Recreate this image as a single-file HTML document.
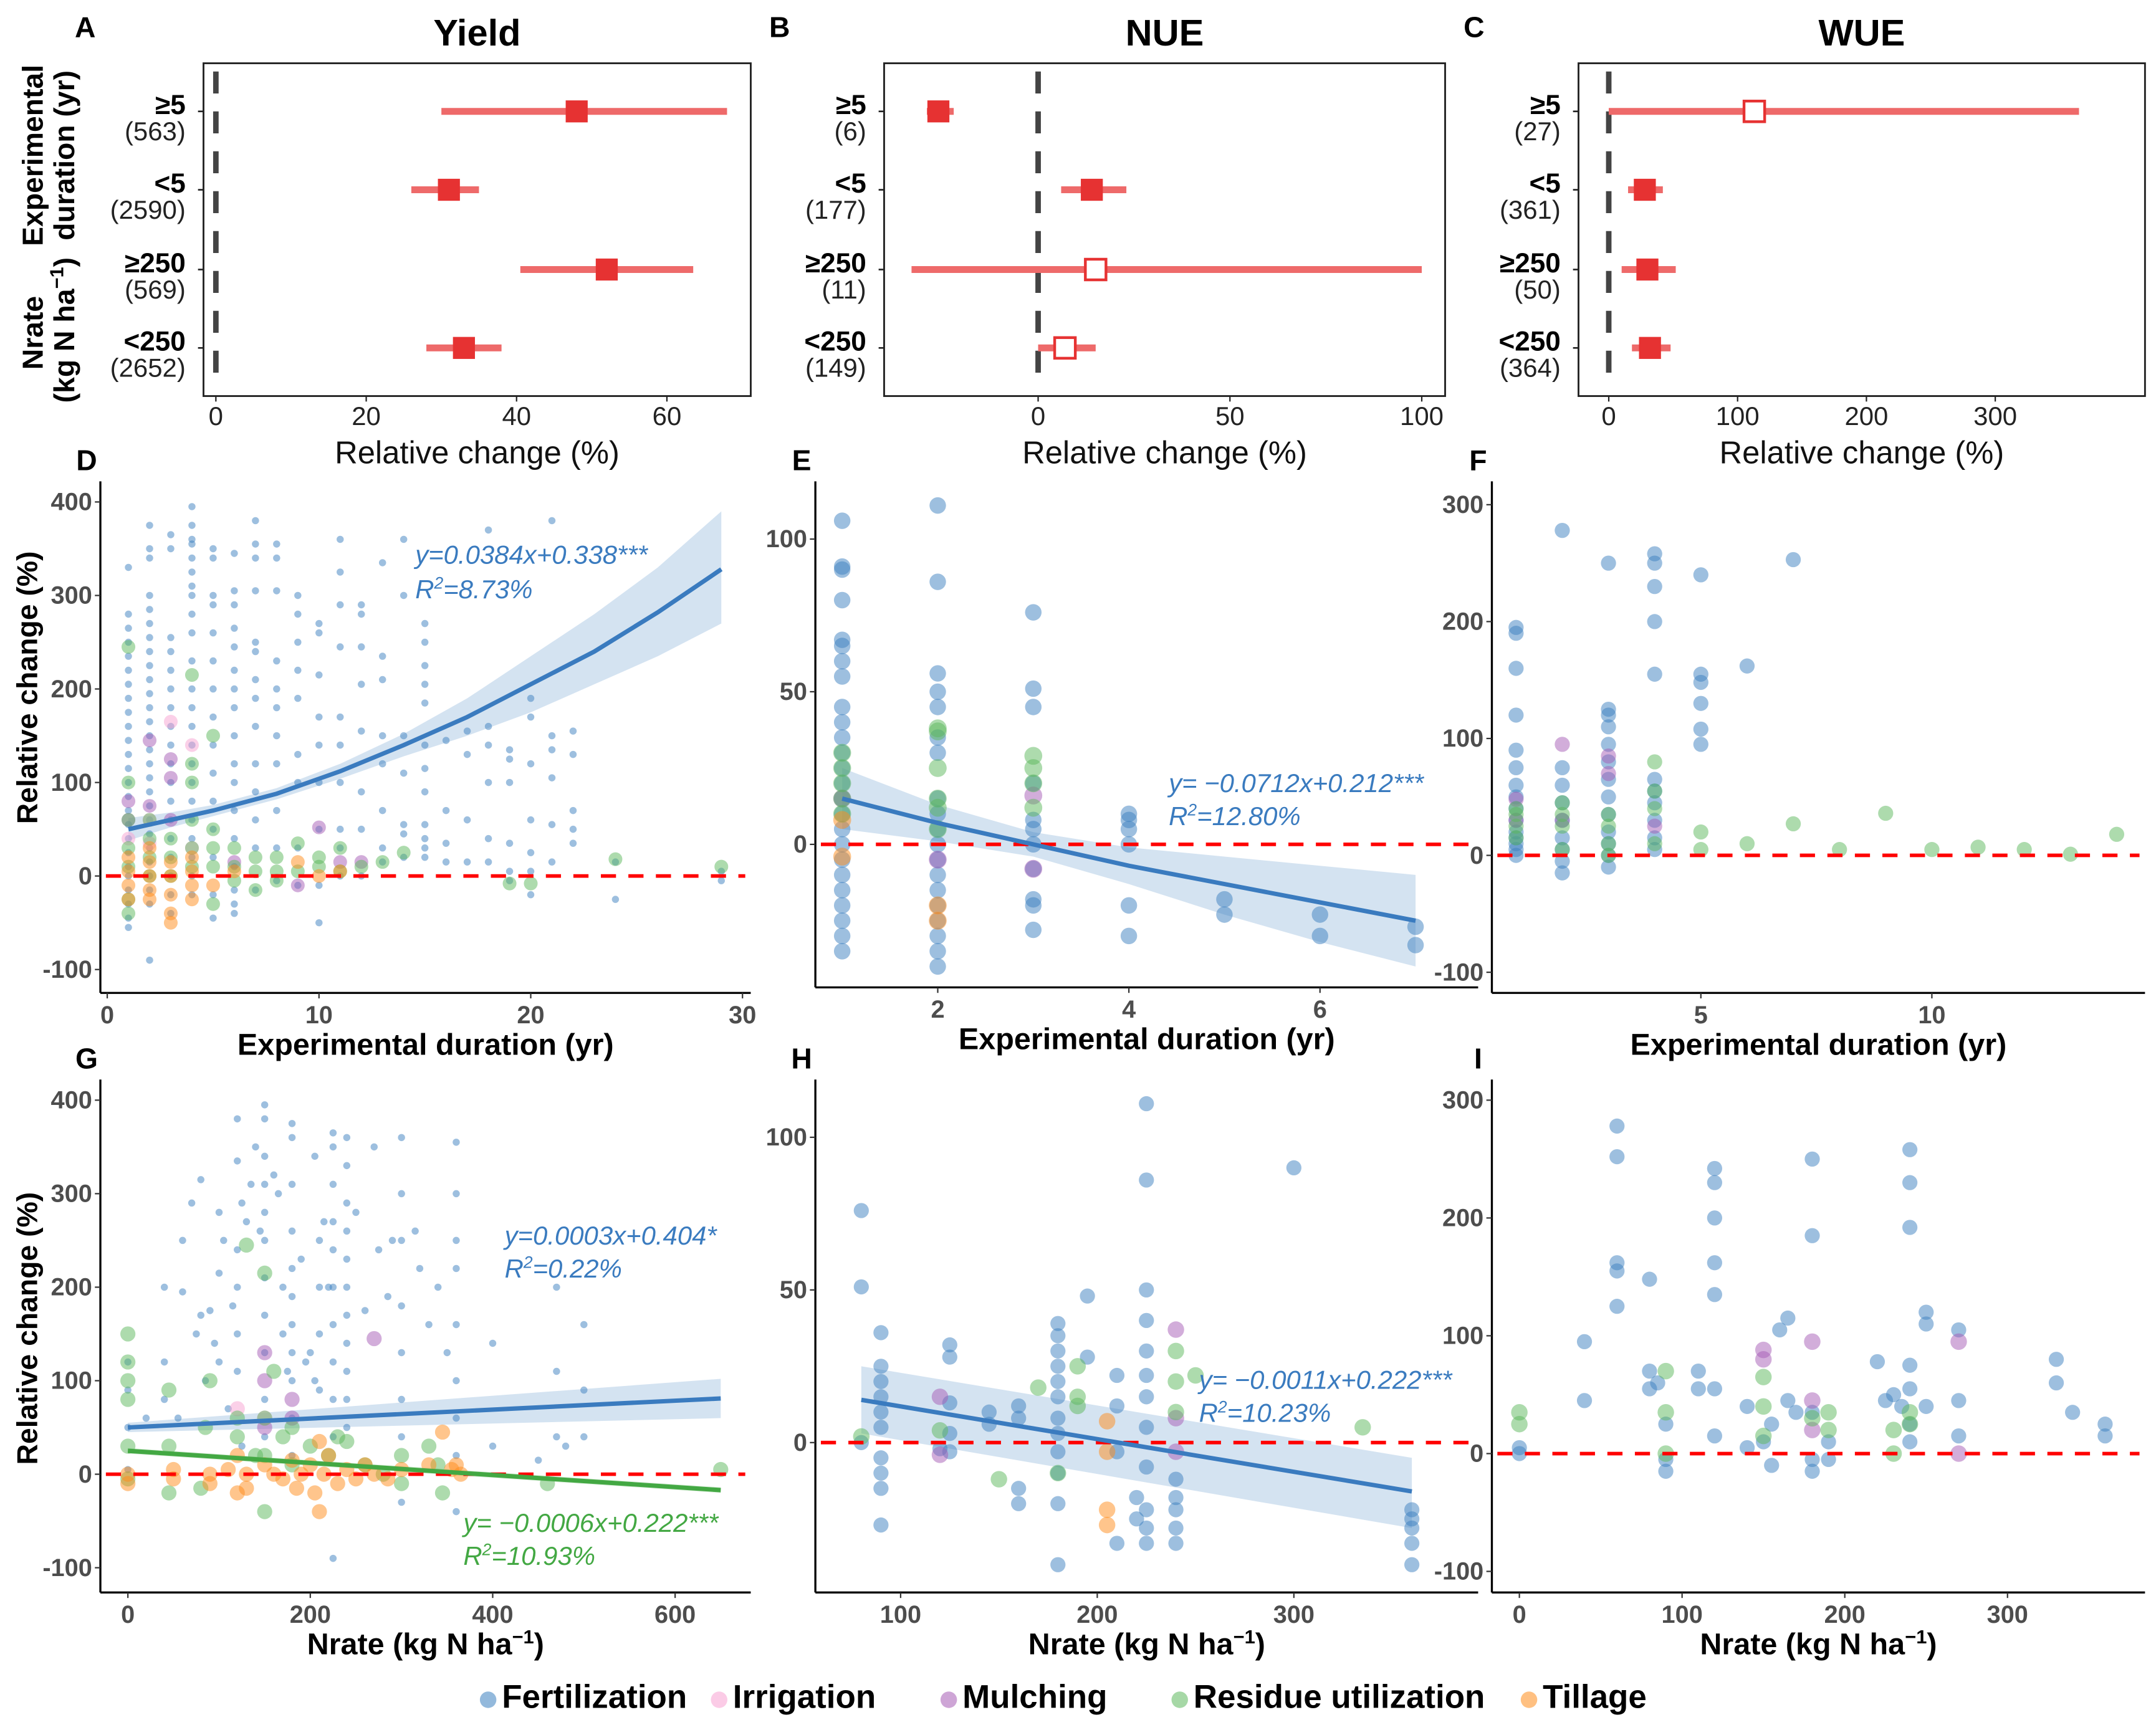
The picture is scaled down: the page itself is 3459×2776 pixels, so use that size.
<!DOCTYPE html>
<html><head><meta charset="utf-8">
<style>
html,body{margin:0;padding:0;background:#fff;}
svg{display:block;}
text{font-family:"Liberation Sans Narrow","Liberation Sans",sans-serif;}
.tk{font-size:18px;font-weight:bold;fill:#4d4d4d;}
.tkA{font-size:19px;fill:#222;}
.lab{font-size:22px;font-weight:bold;fill:#000;}
.labA{font-size:23px;fill:#111;}
.ttl{font-size:27px;font-weight:bold;fill:#000;}
.pl{font-size:21px;font-weight:bold;fill:#000;font-family:"Liberation Sans",sans-serif;}
.eq{font-size:19px;font-style:italic;}
.rl{font-size:21px;font-weight:bold;font-family:"Liberation Sans",sans-serif;}
</style></head>
<body>
<svg id="fig" width="3459" height="2776" viewBox="0 0 1568 1258" preserveAspectRatio="none" xmlns="http://www.w3.org/2000/svg">
<g id="root"></g>
</svg>
<script>
// ---------- Forest plot data (rows top->bottom) ----------
const rowLabels=["≥5","<5","≥250","<250"];
const yieldN=["(563)","(2590)","(569)","(2652)"];
const yieldMean=[48,31,52,33];
const yieldLo=[30,26,40.5,28];
const yieldHi=[68,35,63.5,38];
const yieldOpen=[0,0,0,0];
const nueN=["(6)","(177)","(11)","(149)"];
const nueMean=[-26,14,15,7];
const nueLo=[-29,6,-33,0];
const nueHi=[-22,23,100,15];
const nueOpen=[0,0,1,1];
const wueN=["(27)","(361)","(50)","(364)"];
const wueMean=[113,28,30,32];
const wueLo=[0,15,10,18];
const wueHi=[365,42,52,48];
const wueOpen=[1,0,0,0];
const forestTicksA=[0,20,40,60];
const forestTicksB=[0,50,100];
const forestTicksC=[0,100,200,300];

// ---------- Scatter data: [x,y] ----------
const dFert=[[1,-55],[1,-45],[1,-30],[1,-15],[1,0],[1,10],[1,25],[1,40],[1,55],[1,70],[1,85],[1,100],[1,115],[1,130],[1,145],[1,160],[1,175],[1,190],[1,205],[1,220],[1,235],[1,250],[1,265],[1,280],[1,330],
[2,-90],[2,-30],[2,-15],[2,0],[2,15],[2,30],[2,45],[2,60],[2,75],[2,90],[2,105],[2,120],[2,135],[2,150],[2,165],[2,180],[2,195],[2,210],[2,225],[2,240],[2,255],[2,270],[2,285],[2,300],[2,340],[2,350],[2,375],
[3,-40],[3,-20],[3,0],[3,20],[3,40],[3,60],[3,80],[3,100],[3,120],[3,140],[3,160],[3,180],[3,200],[3,220],[3,240],[3,255],[3,350],[3,365],
[4,-20],[4,0],[4,20],[4,40],[4,60],[4,80],[4,100],[4,120],[4,140],[4,160],[4,180],[4,200],[4,230],[4,260],[4,280],[4,300],[4,310],[4,325],[4,340],[4,355],[4,360],[4,375],[4,395],
[5,-45],[5,-20],[5,20],[5,50],[5,80],[5,110],[5,140],[5,170],[5,200],[5,230],[5,260],[5,290],[5,300],[5,340],[5,350],
[6,-40],[6,-30],[6,-15],[6,10],[6,40],[6,70],[6,100],[6,120],[6,150],[6,180],[6,200],[6,220],[6,245],[6,265],[6,290],[6,305],[6,345],
[7,-15],[7,30],[7,60],[7,90],[7,120],[7,160],[7,190],[7,210],[7,240],[7,250],[7,305],[7,340],[7,355],[7,380],
[8,-5],[8,30],[8,70],[8,120],[8,150],[8,180],[8,200],[8,230],[8,305],[8,340],[8,355],
[9,-10],[9,30],[9,100],[9,130],[9,190],[9,220],[9,250],[9,280],[9,300],
[10,-50],[10,-10],[10,50],[10,100],[10,140],[10,170],[10,215],[10,260],[10,270],
[11,0],[11,30],[11,50],[11,100],[11,140],[11,170],[11,245],[11,290],[11,325],[11,360],
[12,0],[12,50],[12,90],[12,155],[12,205],[12,245],[12,280],[12,290],
[13,15],[13,30],[13,70],[13,120],[13,150],[13,210],[13,235],[13,335],
[14,20],[14,45],[14,55],[14,110],[14,150],[14,300],[14,360],
[15,20],[15,30],[15,40],[15,55],[15,90],[15,115],[15,140],[15,185],[15,205],[15,225],[15,250],[15,270],
[16,15],[16,35],[16,70],[16,145],[17,15],[17,60],[17,130],[17,155],
[18,15],[18,40],[18,100],[18,140],[18,160],[18,370],[19,-5],[19,5],[19,35],[19,100],[19,125],[19,135],
[20,-20],[20,5],[20,25],[20,60],[20,120],[20,170],[20,190],[21,15],[21,55],[21,105],[21,135],[21,150],[21,380],
[22,35],[22,50],[22,70],[22,130],[22,155],[24,-25],[24,15],[29,-5],[29,5]];
const dIrr=[[1,40],[2,60],[3,165],[4,140],[4,30],[2,35]];
const dMulch=[[1,80],[2,145],[3,125],[3,105],[2,75],[10,52],[11,15],[12,15],[6,15],[9,-10],[1,60],[3,60]];
const dRes=[[1,245],[1,100],[1,60],[1,30],[1,10],[1,-25],[1,-40],[2,60],[2,40],[2,20],[2,0],[3,40],[3,20],[3,0],[4,215],[4,120],[4,100],[4,60],[4,30],[4,10],[5,150],[5,50],[5,30],[5,10],[5,-30],[6,30],[6,10],[6,-5],[7,20],[7,5],[7,-15],[8,20],[8,5],[8,-5],[9,35],[9,5],[10,10],[10,20],[11,30],[11,5],[12,10],[13,15],[14,25],[19,-8],[20,-8],[24,18],[29,10]];
const dTill=[[1,-10],[1,5],[1,20],[1,-25],[2,-15],[2,0],[2,15],[2,30],[2,-25],[3,-20],[3,0],[3,15],[3,-40],[3,-50],[4,-25],[4,-10],[4,5],[4,20],[5,-10],[6,5],[9,15],[10,0],[11,5]];
const dFitX=[1,3,5,8,11,14,17,20,23,26,29];
const dFitY=[50,60,70,88,112,140,170,205,240,282,328];
const dFitLo=[38,52,64,82,104,128,150,175,205,235,270];
const dFitHi=[62,68,76,94,120,152,190,235,280,330,390];

const eFert=[[1,-35],[1,-30],[1,-25],[1,-20],[1,-15],[1,-10],[1,-5],[1,0],[1,5],[1,10],[1,15],[1,20],[1,25],[1,30],[1,35],[1,40],[1,45],[1,55],[1,60],[1,65],[1,67],[1,80],[1,90],[1,91],[1,106],
[2,-40],[2,-35],[2,-30],[2,-25],[2,-20],[2,-15],[2,-10],[2,-5],[2,0],[2,5],[2,10],[2,15],[2,30],[2,35],[2,45],[2,50],[2,56],[2,86],[2,111],
[3,-28],[3,-20],[3,-18],[3,-8],[3,0],[3,5],[3,8],[3,20],[3,45],[3,51],[3,76],[4,-30],[4,-20],[4,0],[4,5],[4,8],[4,10],[5,-18],[5,-23],[6,-23],[6,-30],[7,-27],[7,-33]];
const eIrr=[];
const eMulch=[[1,15],[2,-5],[3,16],[3,-8]];
const eRes=[[1,10],[1,15],[1,20],[1,25],[1,30],[2,5],[2,12],[2,15],[2,25],[2,37],[2,38],[3,12],[3,20],[3,25],[3,29]];
const eTill=[[1,-4],[1,8],[2,-20],[2,-25]];
const eFitX=[1,2,3,4,5,6,7];
const eFitY=[15,7,0,-7,-13,-19,-25];
const eFitLo=[5,1,-4,-13,-23,-32,-40];
const eFitHi=[25,13,4,-1,-4,-7,-10];

const fFert=[[1,0],[1,5],[1,10],[1,15],[1,20],[1,30],[1,40],[1,50],[1,60],[1,75],[1,90],[1,120],[1,160],[1,190],[1,195],[2,-15],[2,-5],[2,5],[2,15],[2,30],[2,45],[2,60],[2,75],[2,278],[3,-10],[3,0],[3,10],[3,20],[3,35],[3,50],[3,65],[3,80],[3,95],[3,110],[3,120],[3,125],[3,250],[4,5],[4,15],[4,30],[4,45],[4,55],[4,65],[4,155],[4,200],[4,230],[4,250],[4,258],[5,95],[5,108],[5,130],[5,148],[5,155],[5,240],[6,162],[7,253]];
const fIrr=[];
const fMulch=[[1,30],[1,48],[2,95],[2,30],[3,70],[3,85],[4,25]];
const fRes=[[1,15],[1,25],[1,35],[1,40],[2,25],[2,35],[2,45],[2,5],[3,10],[3,25],[3,35],[3,0],[4,40],[4,55],[4,80],[4,10],[5,20],[5,5],[6,10],[7,27],[8,5],[9,36],[10,5],[11,7],[12,5],[13,1],[14,18]];
const fTill=[];

const gFert=[[0,5],[0,50],[0,90],[0,120],[20,60],[40,200],[40,120],[40,80],[55,60],[60,195],[60,250],[70,290],[75,150],[80,315],[80,170],[85,100],[90,175],[95,140],[100,280],[100,215],[100,120],[105,250],[110,70],[115,180],[120,380],[120,335],[120,240],[120,200],[120,150],[120,110],[125,290],[125,30],[130,270],[135,310],[140,350],[145,260],[150,395],[150,380],[150,340],[150,310],[150,280],[150,250],[150,210],[150,170],[150,130],[150,80],[150,40],[160,320],[165,300],[170,200],[170,150],[175,110],[180,375],[180,360],[180,310],[180,260],[180,220],[180,190],[180,160],[180,130],[180,100],[180,60],[180,20],[190,230],[195,120],[200,130],[205,340],[205,100],[210,250],[210,200],[210,150],[210,90],[215,270],[220,200],[225,365],[225,350],[225,310],[225,270],[225,240],[225,200],[225,160],[225,120],[225,80],[225,40],[225,-90],[240,360],[240,330],[240,290],[240,260],[240,230],[240,200],[240,170],[240,140],[240,110],[240,80],[240,50],[250,280],[260,175],[270,350],[275,240],[285,190],[290,250],[300,360],[300,300],[300,250],[300,180],[300,130],[300,80],[300,40],[300,-30],[315,260],[320,220],[330,160],[340,200],[350,130],[360,355],[360,300],[360,250],[360,220],[360,160],[360,100],[360,60],[360,20],[360,-40],[400,140],[400,30],[450,15],[470,200],[470,110],[470,40],[480,30],[500,160],[500,90],[500,40]];
const gIrr=[[150,60],[120,70]];
const gMulch=[[150,130],[150,100],[180,80],[180,60],[270,145],[150,50]];
const gRes=[[0,150],[0,120],[0,100],[0,80],[0,30],[0,-5],[45,90],[45,30],[45,-20],[80,-15],[85,50],[90,100],[120,60],[120,40],[130,245],[140,20],[150,215],[150,60],[150,20],[150,-40],[160,110],[170,40],[180,50],[180,10],[200,30],[220,20],[230,40],[240,35],[260,10],[280,0],[300,20],[300,-10],[330,30],[340,10],[345,-20],[460,-10],[650,5]];
const gTill=[[0,0],[0,-10],[50,5],[50,-5],[90,0],[90,-10],[110,5],[120,20],[120,-20],[130,0],[130,-15],[150,10],[160,0],[170,-5],[180,15],[185,-15],[190,0],[200,10],[205,-20],[210,35],[210,-40],[215,0],[220,20],[230,-10],[240,5],[250,-5],[260,10],[270,0],[285,-5],[300,5],[330,10],[345,45],[355,5],[360,10],[365,0]];
const gFitX=[0,650];
const gFitY=[50,81];
const gFitLo=[45,60];
const gFitHi=[55,102];
const gFit2X=[0,650];
const gFit2Y=[25,-17];
const gFit2Lo=[22,-20];
const gFit2Hi=[28,-14];

const hFert=[[80,0],[80,51],[80,76],[90,36],[90,25],[90,20],[90,15],[90,10],[90,5],[90,-5],[90,-10],[90,-15],[90,-27],[120,-2],[125,32],[125,28],[125,13],[125,3],[125,-3],[145,10],[145,6],[160,12],[160,8],[160,-15],[160,-20],[180,39],[180,35],[180,30],[180,25],[180,20],[180,15],[180,8],[180,3],[180,-3],[180,-10],[180,-20],[180,-40],[195,48],[195,28],[210,22],[210,12],[210,-3],[210,-33],[220,-18],[220,-25],[225,111],[225,86],[225,50],[225,40],[225,30],[225,22],[225,15],[225,5],[225,-8],[225,-22],[225,-28],[225,-33],[240,-12],[240,-18],[240,-22],[240,-28],[240,-33],[300,90],[360,-22],[360,-25],[360,-28],[360,-33],[360,-40]];
const hIrr=[];
const hMulch=[[120,15],[120,-4],[240,37],[240,8],[240,-3]];
const hRes=[[80,2],[120,4],[170,18],[190,25],[190,15],[190,12],[240,30],[240,20],[240,10],[250,22],[335,5],[150,-12],[180,-10]];
const hTill=[[205,7],[205,-3],[205,-22],[205,-27]];
const hFitX=[80,360];
const hFitY=[14,-16];
const hFitLo=[3,-28];
const hFitHi=[25,-5];

const iFert=[[0,5],[0,0],[40,95],[40,45],[60,278],[60,252],[60,162],[60,155],[60,125],[80,148],[80,70],[80,55],[85,60],[90,25],[90,-5],[90,-15],[110,70],[110,55],[120,242],[120,230],[120,200],[120,162],[120,135],[120,55],[120,15],[140,40],[140,5],[150,10],[155,25],[155,-10],[160,105],[165,115],[165,45],[170,35],[180,250],[180,185],[180,35],[180,-5],[180,-15],[190,10],[190,-5],[220,78],[225,45],[230,50],[235,40],[240,258],[240,230],[240,192],[240,75],[240,55],[240,25],[240,10],[250,120],[250,110],[250,40],[270,105],[270,45],[270,15],[330,80],[330,60],[340,35],[360,25],[360,15]];
const iIrr=[];
const iMulch=[[150,88],[150,80],[180,95],[180,45],[180,20],[270,95],[270,0]];
const iRes=[[0,35],[0,25],[90,70],[90,35],[90,0],[150,65],[150,40],[150,15],[180,30],[190,35],[190,20],[230,20],[230,0],[240,35],[240,25]];
const iTill=[];

const legendNames=["Fertilization","Irrigation","Mulching","Residue utilization","Tillage"];

const NS="http://www.w3.org/2000/svg";
const root=document.getElementById('root');
function mk(tag,attrs,parent){const e=document.createElementNS(NS,tag);for(const k in attrs)e.setAttribute(k,attrs[k]);(parent||root).appendChild(e);return e;}
function txt(s,x,y,cls,anchor,parent,extra){const t=mk('text',Object.assign({x:x,y:y,'class':cls,'text-anchor':anchor||'middle'},extra||{}),parent);t.textContent=s;return t;}
const COL={F:'#3b7fc0',I:'#f7a1d2',M:'#a55bb5',R:'#5cb85c',T:'#ff8c1a'};

// ---------- forest panels ----------
function forest(o){
  const g=mk('g',{});
  
  
  const sx=v=>o.x0+(v-o.v0)*o.k;
  mk('rect',{x:o.L,y:46,width:o.R-o.L,height:242,fill:'none',stroke:'#222','stroke-width':1.3},g);
  const zl=mk('line',{x1:sx(0),x2:sx(0),y1:52,y2:283,stroke:'#444','stroke-width':4,'stroke-dasharray':'16,13'},g);
  
  
  const rows=[81,138,196,253];
  for(let i=0;i<4;i++){
    const y=rows[i];
    mk('line',{x1:o.L-4,x2:o.L,y1:y,y2:y,stroke:'#222','stroke-width':1.2},g);
    txt(rowLabels[i],o.L-13,y+2,'lab','end',g,{style:'font-size:20px'});
    txt(o.n[i],o.L-13,y+21,'tkA','end',g);
    const ci=mk('line',{x1:sx(o.lo[i]),x2:sx(o.hi[i]),y1:y,y2:y,stroke:'#ee6a6a','stroke-width':5},g);
    
    
    const s=o.open[i]?15:16;
    const sq=mk('rect',{x:sx(o.mean[i])-s/2,y:y-s/2,width:s,height:s,fill:o.open[i]?'#fff':'#e63232',stroke:o.open[i]?'#e63232':'none','stroke-width':2},g);
    
    
  }
  for(const t of o.ticks){mk('line',{x1:sx(t),x2:sx(t),y1:288,y2:292,stroke:'#222'},g);txt(String(t),sx(t),309,'tkA','middle',g);}
  txt('Relative change (%)',(o.L+o.R)/2,337,'labA','middle',g);
  txt(o.title,(o.L+o.R)/2,33,'ttl','middle',g);
  txt(o.letter,o.lx,27,'pl','middle',g);
}
forest({name:'yield-forest',L:148,R:546,x0:157,v0:0,k:5.467,mean:yieldMean,lo:yieldLo,hi:yieldHi,open:yieldOpen,n:yieldN,ticks:forestTicksA,title:'Yield',letter:'A',lx:62});
forest({name:'nue-forest',L:643,R:1051,x0:755,v0:0,k:2.79,mean:nueMean,lo:nueLo,hi:nueHi,open:nueOpen,n:nueN,ticks:forestTicksB,title:'NUE',letter:'B',lx:567});
forest({name:'wue-forest',L:1148,R:1560,x0:1170,v0:0,k:0.937,mean:wueMean,lo:wueLo,hi:wueHi,open:wueOpen,n:wueN,ticks:forestTicksC,title:'WUE',letter:'C',lx:1072});
// forest y-axis titles
txt('Experimental',31,113,'rl','middle',null,{transform:'rotate(-90 31 113)'});
txt('duration (yr)',54,113,'rl','middle',null,{transform:'rotate(-90 54 113)'});
txt('Nrate',31,242,'rl','middle',null,{transform:'rotate(-90 31 242)'});
const kg=txt('',54,240,'rl','middle',null,{transform:'rotate(-90 54 240)'});
kg.innerHTML='(kg N ha<tspan dy="-8" font-size="14">−1</tspan><tspan dy="8">)</tspan>';

// ---------- scatter panels ----------
function scatter(o){
  const g=mk('g',{});
  
  
  const sx=v=>o.xa+(v-o.xv[0])*(o.xb-o.xa)/(o.xv[1]-o.xv[0]);
  const sy=v=>o.ya+(v-o.yv[0])*(o.yb-o.ya)/(o.yv[1]-o.yv[0]);
  function band(X,Lo,Hi,col){let d='M'+X.map((x,i)=>sx(x)+','+sy(Hi[i])).join('L')+'L'+X.slice().reverse().map((x,i)=>sx(x)+','+sy(Lo[Lo.length-1-i])).join('L')+'Z';const p=mk('path',{d:d,fill:col,opacity:0.22},g);}
  if(o.fit)band(o.fit.x,o.fit.lo,o.fit.hi,'#3b7fc0');
  if(o.fit2)band(o.fit2.x,o.fit2.lo,o.fit2.hi,'#4aae4a');
  const cats=[['F',o.pF,o.rF],['I',o.pI,o.rO],['M',o.pM,o.rO],['R',o.pR,o.rO],['T',o.pT,o.rO]];
  for(const [c,arr,r] of cats){for(const p of arr){
    const ci=mk('circle',{cx:sx(p[0]),cy:sy(p[1]),r:r,fill:COL[c],'fill-opacity':0.5},g);
    
    
  }}
  const zl=mk('line',{x1:o.L+4,x2:o.R-4,y1:sy(0),y2:sy(0),stroke:'#ff0000','stroke-width':2.6,'stroke-dasharray':'11,9'},g);
  
  
  function line(X,Y,col){const p=mk('polyline',{points:X.map((x,i)=>sx(x)+','+sy(Y[i])).join(' '),fill:'none',stroke:col,'stroke-width':3.2},g);}
  if(o.fit)line(o.fit.x,o.fit.y,'#3a7bbf');
  if(o.fit2)line(o.fit2.x,o.fit2.y,'#43a843');
  mk('line',{x1:o.L,x2:o.L,y1:o.T,y2:o.B,stroke:'#000','stroke-width':1.5},g);
  mk('line',{x1:o.L,x2:o.R,y1:o.B,y2:o.B,stroke:'#000','stroke-width':1.5},g);
  for(const t of o.yt){mk('line',{x1:o.L-4,x2:o.L,y1:sy(t),y2:sy(t),stroke:'#333'},g);txt(String(t),o.L-6,sy(t)+6,'tk','end',g);}
  for(const t of o.xt){mk('line',{x1:sx(t),x2:sx(t),y1:o.B,y2:o.B+4,stroke:'#333'},g);txt(String(t),sx(t),o.B+22,'tk','middle',g);}
  const xl=txt('',(o.L+o.R)/2,o.B+45,'lab','middle',g);
  xl.innerHTML=o.xlab;
  txt(o.letter,o.L-10,o.T-8,'pl','middle',g);
  if(o.eq)for(const e of o.eq){const t=txt('',e[0],e[1],'eq','start',g,{fill:e[3]});t.innerHTML=e[2];}
}
const durLab='Experimental duration (yr)';
const nLab='Nrate (kg N ha<tspan dy="-8" font-size="14">−1</tspan><tspan dy="8">)</tspan>';
const r2=(v)=>'R<tspan dy="-7" font-size="12">2</tspan><tspan dy="7">='+v+'</tspan>';
scatter({name:'yield-vs-duration',letter:'D',L:73,R:546,T:350,B:722,xa:78,xb:540,xv:[0,30],ya:637,yb:365,yv:[0,400],xt:[0,10,20,30],yt:[400,300,200,100,0,-100],pF:dFert,pI:dIrr,pM:dMulch,pR:dRes,pT:dTill,rF:2.6,rO:5,fit:{x:dFitX,y:dFitY,lo:dFitLo,hi:dFitHi},xlab:durLab,eq:[[302,410,'y=0.0384x+0.338***','#3a7bbf'],[302,435,r2('8.73%'),'#3a7bbf']]});
scatter({name:'nue-vs-duration',letter:'E',L:593,R:1075,T:350,B:718,xa:682,xb:960,xv:[2,6],ya:614,yb:392,yv:[0,100],xt:[2,4,6],yt:[100,50,0],pF:eFert,pI:eIrr,pM:eMulch,pR:eRes,pT:eTill,rF:6,rO:6.5,fit:{x:eFitX,y:eFitY,lo:eFitLo,hi:eFitHi},xlab:durLab,eq:[[850,576,'y= −0.0712x+0.212***','#3a7bbf'],[850,600,r2('12.80%'),'#3a7bbf']]});
scatter({name:'wue-vs-duration',letter:'F',L:1085,R:1560,T:350,B:722,xa:1237,xb:1405,xv:[5,10],ya:622,yb:452,yv:[0,200],xt:[5,10],yt:[300,200,100,0,-100],pF:fFert,pI:fIrr,pM:fMulch,pR:fRes,pT:fTill,rF:5.5,rO:5.5,xlab:durLab});
scatter({name:'yield-vs-nrate',letter:'G',L:73,R:546,T:785,B:1158,xa:93,xb:491,xv:[0,600],ya:1072,yb:800,yv:[0,400],xt:[0,200,400,600],yt:[400,300,200,100,0,-100],pF:gFert,pI:gIrr,pM:gMulch,pR:gRes,pT:gTill,rF:2.6,rO:5.5,fit:{x:gFitX,y:gFitY,lo:gFitLo,hi:gFitHi},fit2:{x:gFit2X,y:gFit2Y,lo:gFit2Lo,hi:gFit2Hi},xlab:nLab,eq:[[367,905,'y=0.0003x+0.404*','#3a7bbf'],[367,929,r2('0.22%'),'#3a7bbf'],[337,1114,'y= −0.0006x+0.222***','#43a843'],[337,1138,r2('10.93%'),'#43a843']]});
scatter({name:'nue-vs-nrate',letter:'H',L:593,R:1075,T:785,B:1158,xa:655,xb:941,xv:[100,300],ya:1049,yb:827,yv:[0,100],xt:[100,200,300],yt:[100,50,0],pF:hFert,pI:hIrr,pM:hMulch,pR:hRes,pT:hTill,rF:5.5,rO:6,fit:{x:hFitX,y:hFitY,lo:hFitLo,hi:hFitHi},xlab:nLab,eq:[[872,1010,'y= −0.0011x+0.222***','#3a7bbf'],[872,1034,r2('10.23%'),'#3a7bbf']]});
scatter({name:'wue-vs-nrate',letter:'I',L:1085,R:1560,T:785,B:1158,xa:1105,xb:1460,xv:[0,300],ya:1057,yb:800,yv:[0,300],xt:[0,100,200,300],yt:[300,200,100,0,-100],pF:iFert,pI:iIrr,pM:iMulch,pR:iRes,pT:iTill,rF:5.5,rO:6,xlab:nLab});
// y-axis titles for scatter rows
txt('Relative change (%)',27,500,'rl','middle',null,{transform:'rotate(-90 27 500)'});
txt('Relative change (%)',27,966,'rl','middle',null,{transform:'rotate(-90 27 966)'});

// ---------- legend ----------
const lg=mk('g',{});


const lgX=[355,523,690,858,1112];
const lgC=['F','I','M','R','T'];
for(let i=0;i<5;i++){
  const e=mk('g',{},lg);
  
  
  mk('circle',{cx:lgX[i],cy:1236,r:6,fill:COL[lgC[i]],'fill-opacity':0.55},e);
  txt(legendNames[i],lgX[i]+10,1242,'lab','start',e,{style:'font-size:24px'});
}
</script>
</body></html>
